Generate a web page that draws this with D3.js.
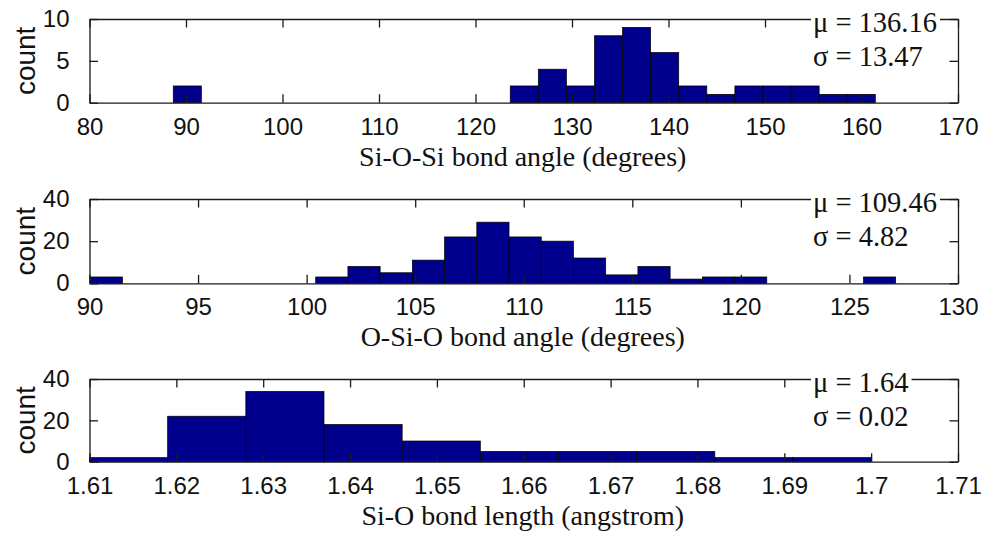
<!DOCTYPE html>
<html>
<head>
<meta charset="utf-8">
<script src="https://cdn.jsdelivr.net/npm/d3@7"></script>
<style>
  html, body { margin: 0; padding: 0; background: #fff; }
  svg { display: block; }
</style>
</head>
<body>
<svg id="chart" width="985" height="537"></svg>
<script>
// ---- Si-O-Si bond angle histogram ----
const siosiBinStart = 88.68;
const siosiBinWidth = 2.91;
const siosiCounts = [2,0,0,0,0,0,0,0,0,0,0,0,2,4,2,8,9,6,2,1,2,2,2,1,1];
const siosiXTicks = [80,90,100,110,120,130,140,150,160,170];
const siosiYTicks = [0,5,10];

// ---- O-Si-O bond angle histogram ----
const osioBinStart = 90.03;
const osioBinWidth = 1.484;
const osioCounts = [3,0,0,0,0,0,0,3,8,5,11,22,29,22,20,12,4,8,2,3,3,0,0,0,3];
const osioXTicks = [90,95,100,105,110,115,120,125,130];
const osioYTicks = [0,20,40];

// ---- Si-O bond length histogram ----
const sioBinStart = 1.610;
const sioBinWidth = 0.009;
const sioCounts = [2,22,34,18,10,5,5,5,2,2];
const sioXTicks = [1.61,1.62,1.63,1.64,1.65,1.66,1.67,1.68,1.69,1.70,1.71];
const sioYTicks = [0,20,40];

// ---- statistics printed in each panel ----
const panelTitles = ["Si-O-Si bond angle (degrees)", "O-Si-O bond angle (degrees)", "Si-O bond length (angstrom)"];
const panelMeans = ["136.16", "109.46", "1.64"];
const panelSigmas = ["13.47", "4.82", "0.02"];

const panels = [
  { start: siosiBinStart, width: siosiBinWidth, counts: siosiCounts, xTicks: siosiXTicks, yTicks: siosiYTicks,
    xDomain: [80, 170], yDomain: [0, 10], fmt: d3.format("d") },
  { start: osioBinStart, width: osioBinWidth, counts: osioCounts, xTicks: osioXTicks, yTicks: osioYTicks,
    xDomain: [90, 130], yDomain: [0, 40], fmt: d3.format("d") },
  { start: sioBinStart, width: sioBinWidth, counts: sioCounts, xTicks: sioXTicks, yTicks: sioYTicks,
    xDomain: [1.61, 1.71], yDomain: [0, 40], fmt: d => String(+d.toFixed(2)) }
];

// frame geometry of the three stacked axes
const axLeft = 89.5, axRight = 958;
const axTops = [19, 199, 379];
const axBottoms = [102.7, 283.3, 461.7];
const tickLen = 8.5;

const svg = d3.select("#chart");
const sans = "'Liberation Sans', Arial, sans-serif";
const serif = "'Liberation Serif', 'Times New Roman', serif";
const axisColor = "#1a1a1a";

panels.forEach((p, i) => {
  const top = axTops[i], bottom = axBottoms[i];
  const x = d3.scaleLinear().domain(p.xDomain).range([axLeft, axRight]);
  const y = d3.scaleLinear().domain(p.yDomain).range([bottom, top]);
  const g = svg.append("g");

  // histogram bars
  const bins = p.counts.map((c, k) => ({ x0: p.start + k * p.width, x1: p.start + (k + 1) * p.width, c }));
  g.selectAll("rect.bar").data(bins.filter(b => b.c > 0)).join("rect")
    .attr("class", "bar")
    .attr("x", b => x(Math.max(b.x0, p.xDomain[0])))
    .attr("width", b => x(b.x1) - x(Math.max(b.x0, p.xDomain[0])))
    .attr("y", b => y(b.c))
    .attr("height", b => y(0) - y(b.c))
    .attr("fill", "#00008c")
    .attr("stroke", "#000")
    .attr("stroke-width", 0.7);

  // axes on all four sides with inward ticks
  const bottomAxis = d3.axisBottom(x).tickValues(p.xTicks).tickSizeInner(-tickLen).tickSizeOuter(0).tickFormat(p.fmt).tickPadding(15);
  const topAxis = d3.axisTop(x).tickValues(p.xTicks).tickSizeInner(-tickLen).tickSizeOuter(0).tickFormat("");
  const leftAxis = d3.axisLeft(y).tickValues(p.yTicks).tickSizeInner(-tickLen).tickSizeOuter(0).tickFormat(d3.format("d")).tickPadding(20);
  const rightAxis = d3.axisRight(y).tickValues(p.yTicks).tickSizeInner(-tickLen).tickSizeOuter(0).tickFormat("");

  const styleAxis = sel => {
    sel.select(".domain").attr("stroke", axisColor).attr("stroke-width", 1.3);
    sel.selectAll(".tick line").attr("stroke", axisColor).attr("stroke-width", 1.3);
    sel.selectAll(".tick text").attr("fill", "#111").attr("font-family", sans).attr("font-size", 24);
  };
  g.append("g").attr("transform", `translate(0,${bottom})`).call(bottomAxis).call(styleAxis);
  g.append("g").attr("transform", `translate(0,${top})`).call(topAxis).call(styleAxis);
  g.append("g").attr("transform", `translate(${axLeft},0)`).call(leftAxis).call(styleAxis);
  g.append("g").attr("transform", `translate(${axRight},0)`).call(rightAxis).call(styleAxis);

  // y-axis label
  g.append("text")
    .attr("transform", `translate(25,${(top + bottom) / 2}) rotate(-90)`)
    .attr("text-anchor", "middle")
    .attr("dominant-baseline", "central")
    .attr("font-family", sans).attr("font-size", 28).attr("fill", "#111")
    .text("count");

  // x-axis title
  g.append("text")
    .attr("x", (axLeft + axRight) / 2 - 1)
    .attr("y", bottom + 63)
    .attr("text-anchor", "middle")
    .attr("font-family", serif).attr("font-size", 28).attr("fill", "#111")
    .text(panelTitles[i]);

  // mean / standard deviation note on a white background
  const note = g.append("g");
  const box = note.append("rect").attr("fill", "#fff");
  const t1 = note.append("text").attr("x", 813).attr("y", top + 12.7)
    .attr("font-family", serif).attr("font-size", 28.5).attr("fill", "#111")
    .text(`\u03bc = ${panelMeans[i]}`);
  const t2 = note.append("text").attr("x", 813).attr("y", top + 47)
    .attr("font-family", serif).attr("font-size", 28.5).attr("fill", "#111")
    .text(`\u03c3 = ${panelSigmas[i]}`);
  const bb1 = t1.node().getBBox(), bb2 = t2.node().getBBox();
  const bx0 = Math.min(bb1.x, bb2.x) - 2;
  const bx1 = Math.max(bb1.x + bb1.width, bb2.x + bb2.width) + 3;
  box.attr("x", bx0).attr("y", bb1.y - 1).attr("width", bx1 - bx0).attr("height", bb2.y + bb2.height - bb1.y + 1);
});
</script>
</body>
</html>
